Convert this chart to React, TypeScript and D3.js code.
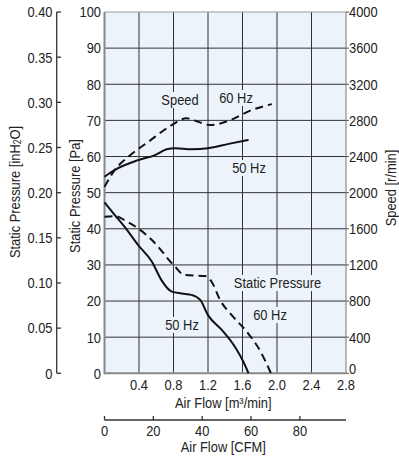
import React from "react";
import * as d3 from "d3";

const flowTicks = [0.4, 0.8, 1.2, 1.6, 2.0, 2.4, 2.8];
const paTicks = [0, 10, 20, 30, 40, 50, 60, 70, 80, 90, 100];
const inH2OTicks = [0, 0.05, 0.1, 0.15, 0.2, 0.25, 0.3, 0.35, 0.4];
const speedTicks = [0, 400, 800, 1200, 1600, 2000, 2400, 2800, 3200, 3600, 4000];
const cfmTicks = [0, 20, 40, 60, 80];

const sp50Flow = [0, 0.12, 0.26, 0.39, 0.55, 0.66, 0.78, 0.895, 1.01, 1.11, 1.2, 1.36, 1.51, 1.61, 1.67];
const sp50Pa = [47.3, 43.8, 39.7, 35.5, 30.9, 25.8, 22.6, 22.1, 21.7, 20.3, 16.1, 12, 7.4, 3.2, 0];
const sp60Flow = [0, 0.12, 0.26, 0.39, 0.55, 0.8, 0.93, 1.165, 1.24, 1.34, 1.49, 1.65, 1.8, 1.93];
const sp60Pa = [43.3, 43.5, 42, 40.1, 36.9, 30, 27.2, 26.9, 25.4, 20.3, 15.7, 11.5, 6.4, 0];
const spd50Flow = [0, 0.12, 0.39, 0.585, 0.72, 0.82, 1.01, 1.2, 1.44, 1.67];
const spd50Rpm = [2176, 2252, 2360, 2416, 2480, 2492, 2480, 2492, 2540, 2584];
const spd60Flow = [0, 0.12, 0.28, 0.51, 0.78, 0.95, 1.09, 1.22, 1.44, 1.71, 1.94];
const spd60Rpm = [2064, 2252, 2400, 2564, 2748, 2824, 2784, 2748, 2796, 2916, 2980];

const FONT = "'Liberation Sans', Arial, sans-serif";
const FS = 15;
const SX = 0.86;
const BG = "#edf3fa";
const TXT = "#222";

const L = 104.5, R = 346, T = 12, B = 373.3;
const x = d3.scaleLinear().domain([0, 2.8]).range([L, R]);
const yPa = d3.scaleLinear().domain([0, 100]).range([B, T]);
const yIn = d3.scaleLinear().domain([0, 0.4]).range([B, T]);
const ySpd = d3.scaleLinear().domain([0, 4000]).range([B, T]);
const xCfm = d3.scaleLinear().domain([0, 2.8 * 35.3147]).range([L, R]);

function Txt({
  x: px,
  y: py,
  anchor = "start",
  rot = false,
  children,
}: {
  x: number;
  y: number;
  anchor?: string;
  rot?: boolean;
  children: React.ReactNode;
}) {
  return (
    <text
      transform={`translate(${px},${py})${rot ? " rotate(-90)" : ""} scale(${SX},1)`}
      textAnchor={anchor}
      dominantBaseline="central"
      fontSize={FS}
      fill={TXT}
    >
      {children}
    </text>
  );
}

function Label({ cx, cy, text, w }: { cx: number; cy: number; text: string; w: number }) {
  return (
    <g>
      <rect x={cx - w / 2} y={cy - 8} width={w} height={16} fill={BG} />
      <Txt x={cx} y={cy} anchor="middle">
        {text}
      </Txt>
    </g>
  );
}

export default function App() {
  const paLine = d3
    .line<[number, number]>()
    .x((d) => x(d[0]))
    .y((d) => yPa(d[1]))
    .curve(d3.curveMonotoneX);
  const spdLine = d3
    .line<[number, number]>()
    .x((d) => x(d[0]))
    .y((d) => ySpd(d[1]))
    .curve(d3.curveMonotoneX);
  const zip = (a: number[], b: number[]) => a.map((v, i) => [v, b[i]] as [number, number]);

  return (
    <svg width={399} height={457} style={{ position: "absolute", left: 0, top: 0 }} fontFamily={FONT}>
      <rect x={L} y={T} width={R - L} height={B - T} fill={BG} />
      {paTicks.slice(1, -1).map((t) => (
        <line key={"h" + t} x1={L} x2={R} y1={yPa(t)} y2={yPa(t)} stroke="#333" strokeWidth={1} />
      ))}
      {flowTicks.slice(0, -1).map((t) => (
        <line key={"v" + t} x1={x(t)} x2={x(t)} y1={T} y2={B} stroke="#333" strokeWidth={1} />
      ))}
      <line x1={L} x2={R} y1={T} y2={T} stroke="#999" strokeWidth={1} />
      <line x1={R} x2={R} y1={T} y2={B} stroke="#777" strokeWidth={1} />
      <line x1={L} x2={L} y1={T} y2={B + 1} stroke="#888" strokeWidth={2} />
      <line x1={L} x2={R} y1={B} y2={B} stroke="#888" strokeWidth={2} />

      {/* labels with background */}
      <Label cx={180} cy={100} text="Speed" w={36} />
      <Label cx={236} cy={98} text="60 Hz" w={35} />
      <Label cx={249} cy={168} text="50 Hz" w={35} />
      <Label cx={277.5} cy={283} text="Static Pressure" w={90} />
      <Label cx={270} cy={315} text="60 Hz" w={35} />
      <Label cx={182} cy={325} text="50 Hz" w={35} />

      {/* curves */}
      <path d={paLine(zip(sp50Flow, sp50Pa)) || ""} fill="none" stroke="#111" strokeWidth={2} />
      <path d={paLine(zip(sp60Flow, sp60Pa)) || ""} fill="none" stroke="#111" strokeWidth={2} strokeDasharray="8,5" />
      <path d={spdLine(zip(spd50Flow, spd50Rpm)) || ""} fill="none" stroke="#111" strokeWidth={2} />
      <path d={spdLine(zip(spd60Flow, spd60Rpm)) || ""} fill="none" stroke="#111" strokeWidth={2} strokeDasharray="8,5" />

      {/* Pa axis labels */}
      {paTicks.map((t) => (
        <Txt key={"pa" + t} x={101} y={yPa(t)} anchor="end">
          {t}
        </Txt>
      ))}
      {/* flow tick labels */}
      {flowTicks.map((t) => (
        <Txt key={"fx" + t} x={x(t)} y={385} anchor="middle">
          {t.toFixed(1)}
        </Txt>
      ))}
      <Txt x={(L + R) / 2 - 2} y={403} anchor="middle">
        Air Flow [m³/min]
      </Txt>

      {/* speed axis */}
      {speedTicks.map((t) => (
        <g key={"s" + t}>
          <line x1={R} x2={R + 3} y1={ySpd(t)} y2={ySpd(t)} stroke="#555" strokeWidth={1} />
          <Txt x={349} y={ySpd(t) - (t === 0 ? 5 : 0)}>
            {t}
          </Txt>
        </g>
      ))}
      <Txt x={391} y={188} anchor="middle" rot>
        Speed [r/min]
      </Txt>

      {/* inH2O axis */}
      <line x1={56.7} x2={56.7} y1={T} y2={B} stroke="#333" strokeWidth={1.3} />
      {inH2OTicks.map((t) => (
        <g key={"in" + t}>
          <line x1={56.7} x2={61} y1={yIn(t)} y2={yIn(t)} stroke="#333" strokeWidth={1.3} />
          <Txt x={52.5} y={yIn(t)} anchor="end">
            {t === 0 ? "0" : t.toFixed(2)}
          </Txt>
        </g>
      ))}
      <Txt x={15} y={192} anchor="middle" rot>
        Static Pressure [inH<tspan fontSize={10} dy={3}>2</tspan>
        <tspan dy={-3}>O]</tspan>
      </Txt>
      <Txt x={75} y={196} anchor="middle" rot>
        Static Pressure [Pa]
      </Txt>

      {/* CFM axis */}
      <line x1={L} x2={R} y1={420} y2={420} stroke="#333" strokeWidth={1.3} />
      {cfmTicks.map((t) => (
        <g key={"c" + t}>
          <line x1={xCfm(t)} x2={xCfm(t)} y1={420} y2={416} stroke="#333" strokeWidth={1.3} />
          <Txt x={xCfm(t)} y={431} anchor="middle">
            {t}
          </Txt>
        </g>
      ))}
      <Txt x={(L + R) / 2 - 2} y={447} anchor="middle">
        Air Flow [CFM]
      </Txt>
    </svg>
  );
}
